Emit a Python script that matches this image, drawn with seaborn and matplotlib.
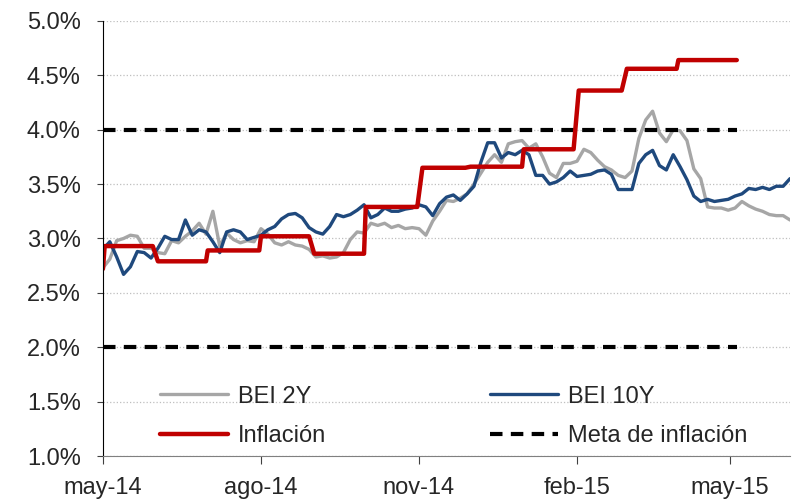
import matplotlib
matplotlib.use('Agg')
import matplotlib.pyplot as plt
import matplotlib.ticker as mticker
import pandas as pd
import seaborn as sns

# break-even inflation, sampled every 4 days from 1 may 2014
bei_start = '2014-05-01'
bei_2y = [2.73, 2.81, 2.98, 3.00, 3.03, 3.02, 2.91, 2.91, 2.87, 2.86,
          2.98, 2.96, 3.02, 3.07, 3.14, 3.04, 3.25, 2.93, 3.05, 2.99,
          2.96, 2.98, 2.97, 3.09, 3.04, 2.96, 2.94, 2.97, 2.94, 2.93,
          2.90, 2.83, 2.84, 2.82, 2.83, 2.87, 2.99, 3.06, 3.05, 3.14,
          3.12, 3.14, 3.10, 3.12, 3.09, 3.10, 3.09, 3.03, 3.16, 3.25,
          3.35, 3.34, 3.37, 3.41, 3.50, 3.60, 3.70, 3.77, 3.70, 3.87,
          3.89, 3.90, 3.83, 3.87, 3.75, 3.60, 3.56, 3.69, 3.69, 3.71,
          3.82, 3.79, 3.72, 3.66, 3.63, 3.58, 3.56, 3.62, 3.92, 4.09,
          4.17, 3.97, 3.89, 4.00, 3.99, 3.90, 3.64, 3.55, 3.29, 3.28,
          3.28, 3.26, 3.28, 3.34, 3.30, 3.27, 3.25, 3.22, 3.21, 3.21,
          3.17]
bei_10y = [2.90, 2.97, 2.83, 2.67, 2.74, 2.88, 2.87, 2.82, 2.91, 3.02,
           2.99, 2.99, 3.17, 3.03, 3.08, 3.06, 2.97, 2.87, 3.06, 3.08,
           3.06, 2.99, 3.01, 3.03, 3.08, 3.11, 3.18, 3.22, 3.23, 3.19,
           3.10, 3.06, 3.04, 3.11, 3.22, 3.20, 3.22, 3.26, 3.31, 3.19,
           3.22, 3.28, 3.25, 3.25, 3.27, 3.28, 3.31, 3.29, 3.21, 3.32,
           3.38, 3.40, 3.35, 3.41, 3.48, 3.70, 3.88, 3.88, 3.74, 3.79,
           3.77, 3.81, 3.77, 3.58, 3.58, 3.50, 3.52, 3.56, 3.62, 3.57,
           3.58, 3.59, 3.62, 3.63, 3.59, 3.45, 3.45, 3.45, 3.69, 3.77,
           3.81, 3.67, 3.63, 3.77, 3.66, 3.54, 3.39, 3.34, 3.36, 3.34,
           3.35, 3.36, 3.39, 3.41, 3.46, 3.45, 3.47, 3.45, 3.48, 3.48,
           3.55]

# monthly inflation (step line)
infl_months = ['2014-05-01', '2014-06-01', '2014-07-01', '2014-08-01',
               '2014-09-01', '2014-10-01', '2014-11-01', '2014-12-01',
               '2015-01-01', '2015-02-01', '2015-03-01', '2015-04-01']
infl_vals = [2.93, 2.79, 2.89, 3.02, 2.86, 3.29, 3.65, 3.66, 3.82, 4.36, 4.56, 4.64]
infl_prev = 2.72
infl_end = '2015-05-05'

meta_low = 2.0
meta_high = 4.0

tick_dates = ['2014-05-01', '2014-08-01', '2014-11-01', '2015-02-01', '2015-05-01']
tick_labels = ['may-14', 'ago-14', 'nov-14', 'feb-15', 'may-15']

dates = pd.date_range(bei_start, periods=len(bei_2y), freq='4D')
df_bei = pd.DataFrame({'fecha': dates, 'bei2': bei_2y, 'bei10': bei_10y})

monthly = pd.Series(infl_vals, index=pd.to_datetime(infl_months))
days = pd.date_range(bei_start, infl_end, freq='B')
infl = monthly.reindex(days, method='ffill')
infl.iloc[0] = infl_prev
df_infl = pd.DataFrame({'fecha': days, 'infl': infl.values})

df_meta = pd.DataFrame({'fecha': pd.to_datetime([bei_start, infl_end]),
                        'hi': [meta_high, meta_high], 'lo': [meta_low, meta_low]})

sns.set_style('white')
plt.rcParams['font.family'] = ['Liberation Sans', 'DejaVu Sans']

fig = plt.figure(figsize=(7.98, 5.03), dpi=100)
ax = fig.add_axes([0.129, 0.0934, 0.861, 0.865])

sns.lineplot(data=df_bei, x='fecha', y='bei2', ax=ax, color='#A6A6A6', lw=2.4, label='BEI 2Y')
sns.lineplot(data=df_bei, x='fecha', y='bei10', ax=ax, color='#1F497D', lw=2.4, label='BEI 10Y')
sns.lineplot(data=df_meta, x='fecha', y='hi', ax=ax, color='black', lw=3,
             label='Meta de inflación', linestyle=(0, (3, 2)))
sns.lineplot(data=df_meta, x='fecha', y='lo', ax=ax, color='black', lw=3,
             linestyle=(0, (3, 2)))
sns.lineplot(data=df_infl, x='fecha', y='infl', ax=ax, color='#C00000', lw=3.2, label='Inflación')

ax.set_ylim(1.0, 5.0)
ax.set_yticks([1.0, 1.5, 2.0, 2.5, 3.0, 3.5, 4.0, 4.5, 5.0])
ax.yaxis.set_major_formatter(mticker.FuncFormatter(lambda v, p: '{:.1f}%'.format(v)))
ax.set_xlim(pd.Timestamp('2014-05-01'), pd.Timestamp('2015-06-05'))
ax.set_xticks(pd.to_datetime(tick_dates))
ax.set_xticklabels(tick_labels)
ax.set_xlabel('')
ax.set_ylabel('')

ax.grid(axis='y', color='#BFBFBF', linestyle=':', lw=0.9)
ax.set_axisbelow(True)
for s in ['top', 'right']:
    ax.spines[s].set_visible(False)
ax.spines['left'].set_color('black')
ax.spines['bottom'].set_color('#808080')
ax.tick_params(axis='both', labelsize=17, direction='out', color='#404040',
               left=True, bottom=True)
ax.tick_params(axis='y', length=4, pad=12)
ax.tick_params(axis='x', length=6, pad=9)

h, l = ax.get_legend_handles_labels()
order = [l.index('BEI 2Y'), l.index('Inflación'), l.index('BEI 10Y'), l.index('Meta de inflación')]
ax.legend([h[i] for i in order], [l[i] for i in order], ncol=2, frameon=False,
          loc='lower left', bbox_to_anchor=(0.083, 0.02), borderaxespad=0, borderpad=0,
          fontsize=17, handlelength=2.9, handletextpad=0.42, labelspacing=0.75,
          columnspacing=6.9)

plt.savefig('out.png', dpi=100)
plt.close()
